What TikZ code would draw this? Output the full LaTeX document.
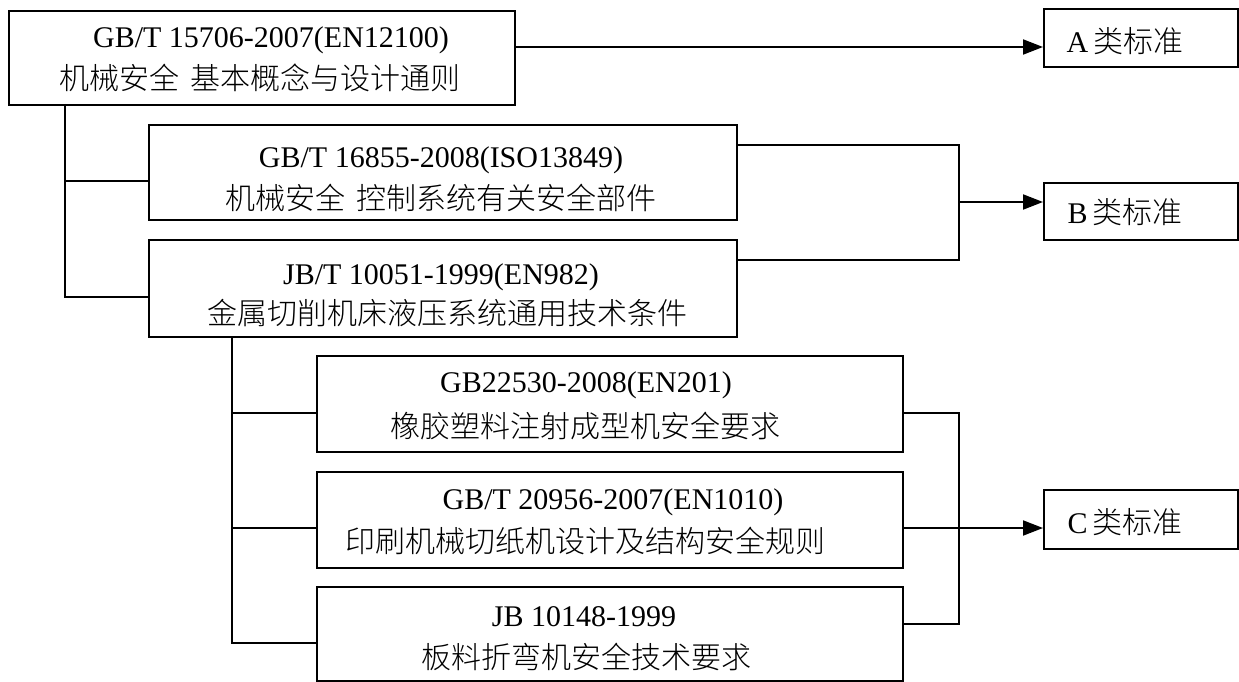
\documentclass[tikz,border=0pt]{standalone}
\usepackage{fontspec}
\setmainfont{Liberation Serif}
\newfontfamily\cjk{Noto Sans CJK SC}[UprightFont={* Light}]
\usetikzlibrary{arrows.meta}
\begin{document}
\begin{tikzpicture}[x=1pt,y=-1pt,
  box/.style={draw=black,line width=2pt,inner sep=0pt,anchor=north west},
  txt/.style={inner sep=0pt,anchor=center,font=\fontsize{30}{36}\selectfont},
  conn/.style={line width=2pt},
  arr/.style={line width=2pt,-{Triangle[length=20pt,width=15pt]}}]
\useasboundingbox (0,0) rectangle (1239,682);
% boxes
\node[box,minimum width=506pt,minimum height=94pt] (b1) at (8,10) {};
\node[box,minimum width=588pt,minimum height=95pt] (b2) at (148,124) {};
\node[box,minimum width=588pt,minimum height=97pt] (b3) at (148,239) {};
\node[box,minimum width=586pt,minimum height=96pt] (b4) at (316,355) {};
\node[box,minimum width=586pt,minimum height=96pt] (b5) at (316,471) {};
\node[box,minimum width=586pt,minimum height=94pt] (b6) at (316,586) {};
\node[box,minimum width=194pt,minimum height=58pt] (A) at (1043,8) {};
\node[box,minimum width=194pt,minimum height=57pt] (B) at (1043,182) {};
\node[box,minimum width=194pt,minimum height=59pt] (C) at (1043,489) {};
% texts
\node[txt] (t1a) at (271,40) {GB/T 15706-2007(EN12100)};
\node[txt] (t1b) at (260,78) {\cjk 机械安全\hspace{0.4em}基本概念与设计通则};
\node[txt] (t2a) at (441,160) {GB/T 16855-2008(ISO13849)};
\node[txt] (t2b) at (441,198) {\cjk 机械安全\hspace{0.4em}控制系统有关安全部件};
\node[txt] (t3a) at (441,277) {JB/T 10051-1999(EN982)};
\node[txt] (t3b) at (447,313) {\cjk 金属切削机床液压系统通用技术条件};
\node[txt] (t4a) at (586,385) {GB22530-2008(EN201)};
\node[txt] (t4b) at (585,426) {\cjk 橡胶塑料注射成型机安全要求};
\node[txt] (t5a) at (613,502) {GB/T 20956-2007(EN1010)};
\node[txt] (t5b) at (585,541) {\cjk 印刷机械切纸机设计及结构安全规则};
\node[txt] (t6a) at (584,617) {JB 10148-1999};
\node[txt] (t6b) at (586,657) {\cjk 板料折弯机安全技术要求};
\node[txt] (tA) at (1125,41) {A\,{\cjk 类标准}};
\node[txt] (tB) at (1125,212) {B\,{\cjk 类标准}};
\node[txt] (tC) at (1125,522) {C\,{\cjk 类标准}};
% junction coordinates
\coordinate (j1t) at (65,104);
\coordinate (j1b) at (65,297);
\coordinate (jBt) at (959,145);
\coordinate (jBb) at (959,260);
\coordinate (jBm) at (959,202);
\coordinate (j2t) at (232,336);
\coordinate (j2b) at (232,643);
\coordinate (jCt) at (959,413);
\coordinate (jCb) at (959,624);
% connectors
\draw[arr] (b1.east |- 0,47) -- (A.west |- 0,47);
\draw[conn] (j1t) -- (j1b) -- (b3.west |- j1b);
\draw[conn] (j1t |- 0,181) -- (b2.west |- 0,181);
\draw[conn] (b2.east |- jBt) -- (jBt) -- (jBb) -- (b3.east |- jBb);
\draw[arr] (jBm) -- (B.west |- jBm);
\draw[conn] (j2t) -- (j2b) -- (b6.west |- j2b);
\draw[conn] (j2t |- 0,413) -- (b4.west |- 0,413);
\draw[conn] (j2t |- 0,528) -- (b5.west |- 0,528);
\draw[conn] (b4.east |- jCt) -- (jCt) -- (jCb) -- (b6.east |- jCb);
\draw[arr] (b5.east |- 0,528) -- (C.west |- 0,528);
\end{tikzpicture}
\end{document}
